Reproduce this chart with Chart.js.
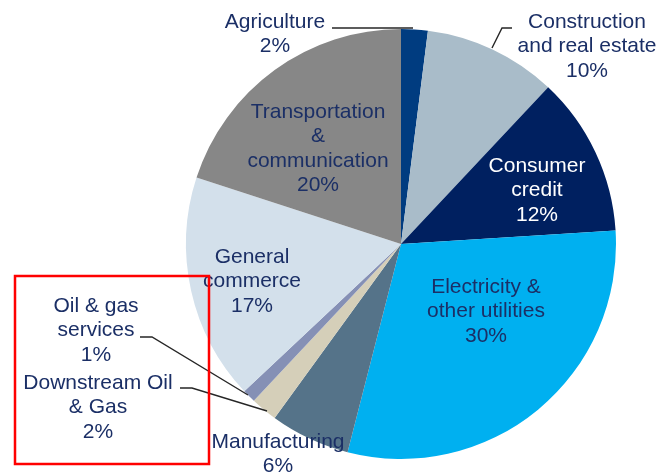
<!DOCTYPE html>
<html>
<head>
<meta charset="utf-8">
<script src="https://cdn.jsdelivr.net/npm/chart.js@4.4.1/dist/chart.umd.min.js"></script>
<style>
  html, body { margin: 0; padding: 0; background: #ffffff; }
  #wrap { width: 658px; height: 475px; position: relative; }
</style>
</head>
<body>
<div id="wrap"><canvas id="pieChart" width="658" height="475"></canvas></div>
<script>
// Sectors, clockwise from 12 o'clock
const sectors = ['Agriculture', 'Construction and real estate', 'Consumer credit', 'Electricity & other utilities',
    'Manufacturing', 'Downstream Oil & Gas', 'Oil & gas services', 'General commerce', 'Transportation & communication'];
const shares = [2, 10, 12, 30, 6, 2, 1, 17, 20];
const sliceColors = ['#003C80', '#A9BCC9', '#002060', '#00B0F0', '#557389', '#D5CFB9', '#8590B5', '#D3E0EB', '#878787'];

// Label text lines (last line gets the percentage)
const labelLines = [
    ['Agriculture'],
    ['Construction', 'and real estate'],
    ['Consumer', 'credit'],
    ['Electricity &', 'other utilities'],
    ['Manufacturing'],
    ['Downstream Oil', '& Gas'],
    ['Oil & gas', 'services'],
    ['General', 'commerce'],
    ['Transportation', '&', 'communication']
];

// where each label sits (centre x, first line y) and optional leader line
const labelLayout = [
    { x: 275, y: 22, leader: [[332, 28], [413, 28]] },
    { x: 587, y: 22, leader: [[512, 28], [502, 28], [492, 48]] },
    { x: 537, y: 166, color: '#ffffff' },
    { x: 486, y: 287 },
    { x: 278, y: 442 },
    { x: 98, y: 383, leader: [[180, 388], [192, 388], [267, 411]] },
    { x: 96, y: 306, leader: [[140, 337], [152, 337], [248, 395]] },
    { x: 252, y: 257 },
    { x: 318, y: 112 }
];

const labelPlugin = {
    id: 'sliceLabels',
    afterDatasetsDraw(chart) {
        const ctx = chart.ctx;
        ctx.save();
        // leader lines first
        ctx.strokeStyle = '#262626';
        ctx.lineWidth = 1.4;
        labelLayout.forEach(l => {
            if (!l.leader) return;
            ctx.beginPath();
            l.leader.forEach((p, i) => i === 0 ? ctx.moveTo(p[0], p[1]) : ctx.lineTo(p[0], p[1]));
            ctx.stroke();
        });

        ctx.font = '21px "Liberation Sans", Arial, sans-serif';
        ctx.textAlign = 'center';
        ctx.textBaseline = 'middle';
        labelLines.forEach((lines, i) => {
            const l = labelLayout[i];
            const all = [...lines, shares[i] + '%'];
            ctx.fillStyle = l.color || '#1B2F66';
            all.forEach((t, j) => ctx.fillText(t, l.x, l.y + j * 24.5));
        });

        // red highlight box around the oil & gas labels
        ctx.strokeStyle = '#FF0000';
        ctx.lineWidth = 2.5;
        ctx.strokeRect(15, 276, 194, 188);
        ctx.restore();
    }
};

new Chart(document.getElementById('pieChart'), {
    type: 'pie',
    data: {
        labels: sectors,
        datasets: [{
            data: shares,
            backgroundColor: sliceColors,
            borderWidth: 0
        }]
    },
    options: {
        responsive: false,
        animation: false,
        layout: { padding: { top: 29, bottom: 16, left: 186, right: 42 } },
        plugins: {
            legend: { display: false },
            tooltip: { enabled: false }
        }
    },
    plugins: [labelPlugin]
});
</script>
</body>
</html>
